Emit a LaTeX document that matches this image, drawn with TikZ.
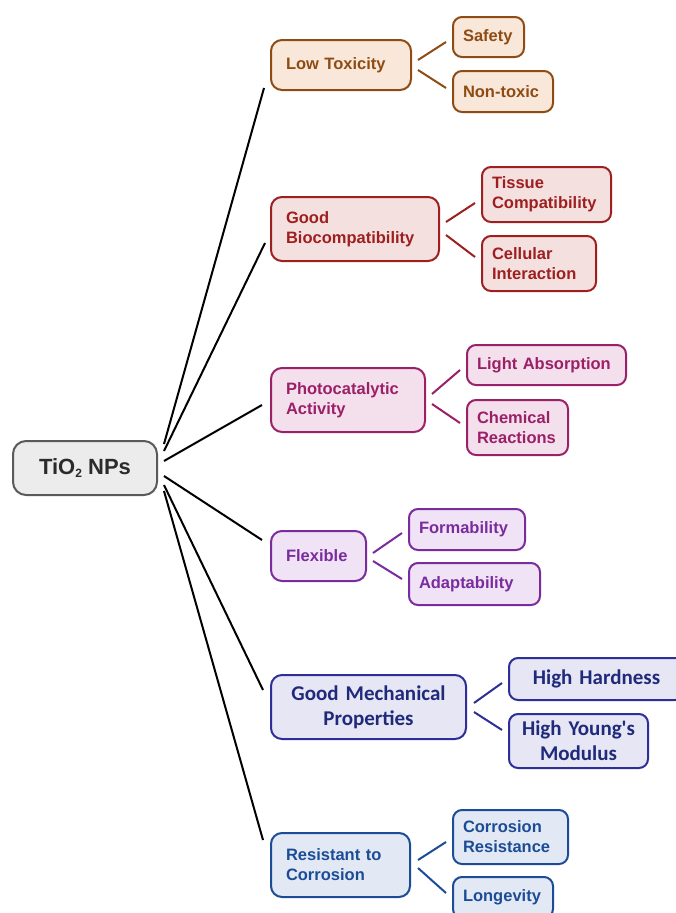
\documentclass[tikz,border=0pt]{standalone}
\usepackage{fontspec}
\setmainfont{Liberation Sans}
\newfontfamily\calibfont{Carlito}
\usetikzlibrary{calc}
\definecolor{rootB}{HTML}{5A5A5A}
\definecolor{rootF}{HTML}{ECECEC}
\definecolor{rootT}{HTML}{2B2B2B}
\definecolor{brB}{HTML}{8E4B14}
\definecolor{brF}{HTML}{F9E8D9}
\definecolor{rdB}{HTML}{9E1F1F}
\definecolor{rdF}{HTML}{F5E0E0}
\definecolor{plB}{HTML}{9A2068}
\definecolor{plF}{HTML}{F4E0EC}
\definecolor{puB}{HTML}{7A2B9E}
\definecolor{puF}{HTML}{F0E3F6}
\definecolor{nvB}{HTML}{2E2E98}
\definecolor{nvT}{HTML}{1F2A7A}
\definecolor{nvF}{HTML}{E7E6F5}
\definecolor{blB}{HTML}{1C4C96}
\definecolor{blF}{HTML}{E2E9F5}
\begin{document}
\begin{tikzpicture}[x=1pt,y=-1pt,
  boxbase/.style={line width=2pt, inner ysep=0pt, font=\bfseries\fontsize{16.5}{20}\selectfont},
  cat/.style 2 args={boxbase, draw=#1, fill=#2, text=#1, rounded corners=11pt, align=left, inner xsep=15pt},
  leaf/.style 2 args={boxbase, draw=#1, fill=#2, text=#1, rounded corners=9pt, align=left, inner xsep=10pt},
  link/.style={line width=2pt, draw=black},
  sub/.style={line width=2pt, draw=#1}]
\useasboundingbox (0,0) rectangle (676,913);
\clip (0,0) rectangle (676,913);

% root
\node[draw=rootB, fill=rootF, text=rootT, line width=2pt, rounded corners=13pt,
  minimum width=144pt, minimum height=54pt, inner sep=0pt,
  font=\bfseries\fontsize{22}{26}\selectfont] (root) at (85,468) {TiO\raisebox{-3pt}{\fontsize{12}{12}\selectfont 2} NPs};

% categories
\node[cat={brB}{brF}, text width=110pt, minimum height=50pt] (c1) at (341,65) {Low Toxicity};
\node[cat={rdB}{rdF}, text width=138pt, minimum height=64pt] (c2) at (355,229) {Good\\Biocompatibility};
\node[cat={plB}{plF}, text width=124pt, minimum height=64pt] (c3) at (348,400) {Photocatalytic\\Activity};
\node[cat={puB}{puF}, text width=65pt, minimum height=50pt] (c4) at (318.5,556) {Flexible};
\node[cat={nvB}{nvF}, text=nvT, align=center, text width=165pt, minimum height=64pt,
  font=\calibfont\bfseries\fontsize{21}{25}\selectfont] (c5) at (368.5,707) {Good Mechanical\\Properties};
\node[cat={blB}{blF}, text width=109pt, minimum height=64pt] (c6) at (340.5,865) {Resistant to\\Corrosion};

% leaves
\node[leaf={brB}{brF}, text width=51pt, minimum height=40pt] (l11) at (488.5,37) {Safety};
\node[leaf={brB}{brF}, text width=80pt, minimum height=41pt] (l12) at (503,91.5) {Non-toxic};
\node[leaf={rdB}{rdF}, text width=109pt, minimum height=55pt] (l21) at (546.5,194.5) {Tissue\\Compatibility};
\node[leaf={rdB}{rdF}, text width=94pt, minimum height=55pt] (l22) at (539,263.5) {Cellular\\Interaction};
\node[leaf={plB}{plF}, text width=139pt, minimum height=40pt] (l31) at (546.5,365) {Light Absorption};
\node[leaf={plB}{plF}, text width=81pt, minimum height=55pt] (l32) at (517.5,427.5) {Chemical\\Reactions};
\node[leaf={puB}{puF}, text width=96pt, minimum height=41pt] (l41) at (467,529.5) {Formability};
\node[leaf={puB}{puF}, text width=111pt, minimum height=42pt] (l42) at (474.5,584) {Adaptability};
\node[leaf={nvB}{nvF}, text=nvT, align=center, text width=155pt, minimum height=42pt,
  font=\calibfont\bfseries\fontsize{21}{25}\selectfont] (l51) at (596.5,679) {High Hardness};
\node[leaf={nvB}{nvF}, text=nvT, align=center, text width=119pt, minimum height=54pt,
  font=\calibfont\bfseries\fontsize{21}{25}\selectfont] (l52) at (578.5,741) {High Young's\\Modulus};
\node[leaf={blB}{blF}, text width=95pt, minimum height=54pt] (l61) at (510.5,837) {Corrosion\\Resistance};
\node[leaf={blB}{blF}, text width=80pt, minimum height=41pt] (l62) at (503,897.5) {Longevity};

% root links
\draw[link] ($(root.east)+(6,-24)$) -- ($(c1.west)+(-6,23)$);
\draw[link] ($(root.east)+(6,-17)$) -- ($(c2.west)+(-5,14)$);
\draw[link] ($(root.east)+(6,-7)$) -- ($(c3.west)+(-8,5)$);
\draw[link] ($(root.east)+(6,8)$) -- ($(c4.west)+(-8,-16)$);
\draw[link] ($(root.east)+(6,17)$) -- ($(c5.west)+(-7,-17)$);
\draw[link] ($(root.east)+(6,23)$) -- ($(c6.west)+(-7,-25)$);

% sub links
\draw[sub=brB] ($(c1.east)+(6,-5)$) -- ($(l11.west)+(-6,5)$);
\draw[sub=brB] ($(c1.east)+(6,5)$) -- ($(l12.west)+(-6,-3.5)$);
\draw[sub=rdB] ($(c2.east)+(6,-7)$) -- ($(l21.west)+(-6,8.5)$);
\draw[sub=rdB] ($(c2.east)+(6,6)$) -- ($(l22.west)+(-6,-6.5)$);
\draw[sub=plB] ($(c3.east)+(6,-6)$) -- ($(l31.west)+(-6,5)$);
\draw[sub=plB] ($(c3.east)+(6,4)$) -- ($(l32.west)+(-6,-4.5)$);
\draw[sub=puB] ($(c4.east)+(6,-3)$) -- ($(l41.west)+(-6,3.5)$);
\draw[sub=puB] ($(c4.east)+(6,5)$) -- ($(l42.west)+(-6,-5)$);
\draw[sub=nvB] ($(c5.east)+(7,-4)$) -- ($(l51.west)+(-6,4)$);
\draw[sub=nvB] ($(c5.east)+(7,5)$) -- ($(l52.west)+(-6,-11)$);
\draw[sub=blB] ($(c6.east)+(7,-5)$) -- ($(l61.west)+(-6,5)$);
\draw[sub=blB] ($(c6.east)+(7,3)$) -- ($(l62.west)+(-6,-4.5)$);
\end{tikzpicture}
\end{document}
